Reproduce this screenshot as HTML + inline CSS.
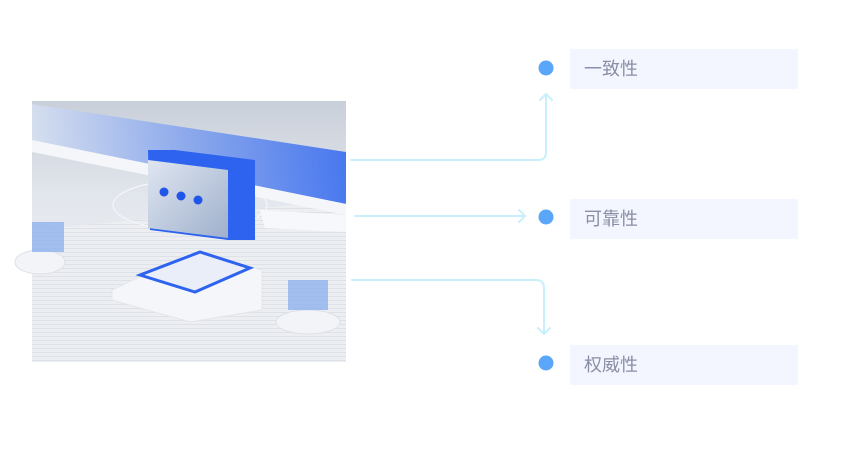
<!DOCTYPE html>
<html><head><meta charset="utf-8"><style>
html,body{margin:0;padding:0;background:#fff;width:860px;height:450px;overflow:hidden;font-family:"Liberation Sans","Noto Sans CJK SC",sans-serif}
.box{position:absolute;left:570px;width:228px;height:40px;background:#f3f6fe;color:#8a8ea6;font-size:18px;line-height:40px;padding-left:14px;box-sizing:border-box}
</style></head><body>
<svg width="860" height="450" style="position:absolute;left:0;top:0">
<defs>
<linearGradient id="bg" x1="0" y1="0" x2="0" y2="1"><stop offset="0" stop-color="#c9cfd9"/><stop offset="0.4" stop-color="#e4e8ee"/><stop offset="1" stop-color="#eef0f4"/></linearGradient>
<linearGradient id="band" x1="0" y1="0" x2="1" y2="0"><stop offset="0" stop-color="#d6e0f2"/><stop offset="0.5" stop-color="#7fa0ee"/><stop offset="1" stop-color="#2f66f0"/></linearGradient>
<linearGradient id="card" x1="0" y1="0" x2="1" y2="1"><stop offset="0" stop-color="#dfe6f1"/><stop offset="1" stop-color="#9fb0cc"/></linearGradient>
<pattern id="st" width="4" height="4" patternUnits="userSpaceOnUse"><rect width="4" height="4" fill="#eceef2"/><rect width="4" height="1" fill="#dde1e8"/></pattern>
</defs>
<rect x="32" y="101" width="314" height="261" fill="url(#bg)"/>
<polygon points="32,230 346,200 346,362 32,362" fill="url(#st)"/>
<polygon points="32,104 346,152 346,204 32,140" fill="url(#band)" opacity="0.85"/>
<polygon points="32,140 346,204 346,215 32,152" fill="#f4f6fa"/>
<polygon points="260,210 346,215 346,232 265,228" fill="#f7f8fb"/>
<ellipse cx="190" cy="205" rx="77" ry="25" fill="none" stroke="#f4f6fb" stroke-width="1.2"/>
<polygon points="175,150 255,160 255,240 228,240 150,230 148,150" fill="#2d63ee"/>
<polygon points="148,160 228,170 228,238 148,228" fill="url(#card)"/>
<circle cx="164" cy="192" r="4.5" fill="#1f55e8"/><circle cx="181" cy="196" r="4.5" fill="#1f55e8"/><circle cx="198" cy="200" r="4.5" fill="#1f55e8"/>
<polygon points="112,290 190,252 262,270 262,310 190,322 112,300" fill="#f4f6f9" stroke="#e2e5eb"/>
<polygon points="140,275 200,252 250,268 195,292" fill="#e9eef9" stroke="#2d63ee" stroke-width="3"/>
<ellipse cx="308" cy="322" rx="32" ry="12" fill="#f2f4f8" stroke="#dde1e8"/>
<rect x="288" y="280" width="40" height="30" fill="#8fb2ee" opacity="0.8"/>
<ellipse cx="40" cy="262" rx="25" ry="12" fill="#f2f4f8" stroke="#dde1e8"/>
<rect x="32" y="222" width="32" height="30" fill="#8fb2ee" opacity="0.8"/>
<g fill="none" stroke="#c7f0fa" stroke-width="2" stroke-linecap="round" stroke-linejoin="round">
<path d="M351 160 H538 Q546 160 546 152 V94"/>
<path d="M540 100 L546 94 L552 100"/>
<path d="M355 216 H525"/>
<path d="M519 210 L525 216 L519 222"/>
<path d="M352 280 H536 Q544 280 544 288 V334"/>
<path d="M538 328 L544 334 L550 328"/>
</g>
<circle cx="546" cy="68" r="7.5" fill="#5aa6f8"/>
<circle cx="546" cy="217" r="7.5" fill="#5aa6f8"/>
<circle cx="546" cy="363" r="7.5" fill="#5aa6f8"/>
</svg>
<div class="box" style="top:49px">一致性</div>
<div class="box" style="top:199px">可靠性</div>
<div class="box" style="top:345px">权威性</div>
</body></html>
